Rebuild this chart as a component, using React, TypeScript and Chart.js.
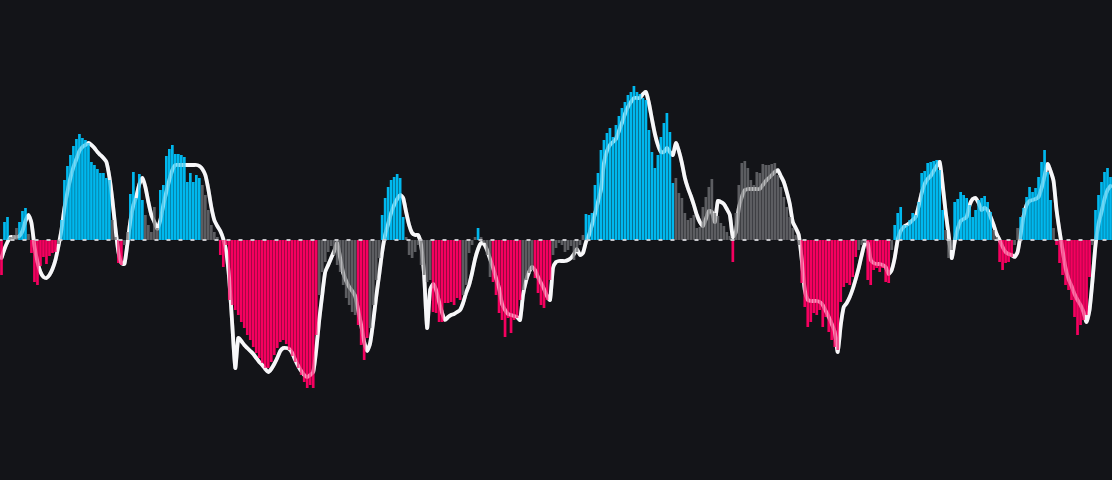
import { useEffect, useRef } from "react";
import { Chart, registerables } from "chart.js";

Chart.register(...registerables);

const BG = "#131418";

// Histogram (momentum) values, one per bar
const histValues: number[] = [
  -35, 18, 23, 3, 5, 12, 18, 29, 32, 6,
  -13, -42, -45, -26, -17, -24, -16, -13, -12, -4,
  20, 60, 74, 85, 94, 101, 106, 102, 100, 97,
  78, 75, 71, 67, 67, 62, 60, 20, 3, -23,
  -25, -5, 8, 46, 68, 42, 66, 40, 25, 15,
  8, 33, 12, 50, 55, 84, 91, 95, 86, 86,
  85, 83, 58, 67, 58, 65, 62, 55, 45, 30,
  15, 8, 3, -15, -27, -5, -60, -65, -70, -75,
  -82, -88, -95, -100, -107, -113, -118, -123, -128, -128,
  -122, -115, -108, -102, -100, -104, -110, -116, -122, -128,
  -135, -142, -148, -145, -148, -95, -55, -32, -22, -12,
  -6, -15, -25, -32, -45, -58, -65, -72, -75, -85,
  -105, -120, -98, -88, -65, -40, -18, 25, 42, 53,
  60, 63, 66, 62, 23, 3, -15, -18, -12, -5,
  -25, -35, -42, -40, -72, -73, -82, -82, -63, -63,
  -62, -65, -58, -60, -55, -45, -13, -5, 3, 12,
  3, -3, -15, -37, -42, -55, -73, -80, -97, -78,
  -93, -80, -78, -60, -50, -40, -33, -30, -38, -53,
  -65, -68, -60, -40, -15, -8, -3, -5, -12, -10,
  -6, -20, -12, -5, 5, 26, 25, 27, 55, 67,
  90, 100, 107, 112, 103, 115, 124, 132, 138, 145,
  148, 154, 148, 146, 142, 140, 110, 88, 72, 85,
  103, 117, 127, 108, 57, 62, 47, 42, 27, 20,
  22, 25, 12, 13, 33, 43, 53, 61, 27, 24,
  17, 14, 8, 4, -22, 27, 55, 77, 79, 72,
  60, 55, 68, 67, 76, 75, 75, 76, 77, 65,
  53, 43, 33, 23, 12, 5, -5, -43, -67, -87,
  -82, -73, -75, -70, -87, -77, -92, -100, -107, -110,
  -62, -47, -43, -45, -37, -17, -10, -5, -3, -40,
  -45, -30, -28, -32, -28, -42, -43, -10, 15, 27,
  33, 15, 15, 20, 27, 25, 38, 67, 69, 77,
  78, 79, 80, 70, 30, 10, -18, -10, 38, 41,
  48, 45, 42, 35, 23, 30, 40, 42, 44, 38,
  28, 10, 3, -22, -30, -23, -22, -17, -5, 12,
  23, 32, 43, 53, 48, 52, 63, 78, 90, 68,
  40, 12, -5, -23, -35, -45, -50, -60, -77, -95,
  -85, -80, -75, -37, -5, 30, 45, 58, 68, 72,
  63,
];

// Signal line values, one per bar
const signalValues: number[] = [
  -18, -9, -2, 3, 3, 3, 4, 9, 19, 25,
  17, -6, -22, -32, -37, -38, -35, -29, -20, -6,
  10, 32, 48, 62, 73, 81, 89, 93, 95, 97,
  95, 92, 88, 85, 82, 78, 63, 40, 12, -12,
  -23, -24, -4, 19, 35, 44, 56, 62, 53, 38,
  25, 18, 11, 20, 35, 48, 60, 70, 75, 75,
  75, 75, 75, 75, 75, 75, 74, 71, 65, 51,
  33, 20, 14, 9, 1, -12, -40, -85, -128, -98,
  -101, -105, -108, -111, -114, -118, -122, -125, -129, -132,
  -129, -124, -118, -111, -108, -108, -109, -113, -120, -126,
  -131, -135, -137, -135, -132, -110, -80, -55, -32, -25,
  -18, -11, -3, -18, -33, -41, -47, -51, -56, -70,
  -85, -102, -111, -103, -82, -57, -35, -12, 5, 16,
  27, 35, 41, 45, 42, 28, 15, 7, 5, 5,
  -5, -35, -88, -50, -44, -50, -62, -73, -80, -77,
  -75, -74, -72, -70, -63, -53, -45, -33, -19, -9,
  -3, -4, -10, -19, -28, -38, -48, -64, -70, -74,
  -75, -76, -77, -80, -55, -41, -32, -27, -30, -37,
  -43, -49, -56, -60, -28, -22, -21, -21, -21, -20,
  -18, -14, -9, -15, -13, -2, 5, 15, 26, 38,
  50, 77, 89, 95, 98, 101, 109, 117, 126, 133,
  138, 142, 142, 142, 146, 148, 137, 121, 106, 95,
  88, 88, 92, 88, 85, 97, 89, 77, 62, 52,
  44, 35, 25, 18, 14, 21, 29, 28, 18, 39,
  38, 36, 31, 25, 3, 8, 32, 43, 50, 51,
  51, 51, 51, 51, 55, 59, 62, 65, 68, 70,
  64, 58, 48, 36, 18, 12, 5, -20, -50, -60,
  -61, -61, -61, -62, -65, -71, -77, -84, -92, -112,
  -85, -67, -63, -57, -49, -39, -28, -15, -4, -3,
  -20, -23, -24, -24, -25, -27, -34, -30, -18, 0,
  9, 13, 15, 17, 20, 23, 34, 47, 56, 61,
  64, 69, 74, 78, 55, 28, 5, -18, -2, 11,
  19, 21, 23, 35, 41, 42, 37, 30, 32, 30,
  23, 15, 6, 0, -7, -12, -14, -15, -17, -12,
  5, 24, 35, 39, 40, 41, 43, 52, 64, 76,
  69, 59, 30, 9, -10, -28, -39, -46, -54, -60,
  -65, -72, -82, -70, -40, -5, 16, 28, 41, 50,
  54,
];

// Bar colour classes as runs: b = rising positive, g = fading, p = falling negative
const colorRuns: [string, number][] = [
  ["p", 1], ["b", 2], ["g", 3], ["b", 3], ["g", 1], ["p", 9], ["g", 1], ["b", 17],
  ["g", 2], ["p", 2], ["g", 2], ["b", 5], ["g", 5], ["b", 14], ["g", 6], ["p", 33],
  ["g", 13], ["p", 4], ["g", 4], ["b", 8], ["g", 9], ["p", 10], ["g", 5], ["b", 1],
  ["g", 4], ["p", 10], ["g", 4], ["p", 6], ["g", 11], ["b", 30], ["g", 19], ["p", 1],
  ["g", 22], ["p", 19], ["g", 3], ["p", 8], ["g", 1], ["b", 17], ["g", 3], ["b", 13],
  ["g", 2], ["p", 5], ["g", 2], ["b", 11], ["g", 1], ["p", 12], ["g", 1], ["b", 6],
];

const categories: string[] = histValues.map((_, i) => String(i + 1));

const PALETTE: Record<string, string> = {
  b: "#00b8ee",
  g: "#5c5d61",
  p: "#f5005f",
};

const barColors: string[] = colorRuns.flatMap(([c, n]) => Array(n).fill(PALETTE[c]));

const zeroLinePlugin = {
  id: "zeroLine",
  afterDatasetsDraw(chart: any) {
    const { ctx, chartArea, scales } = chart;
    const y = scales.y.getPixelForValue(0);
    ctx.save();
    ctx.strokeStyle = "rgba(205,206,210,0.95)";
    ctx.lineWidth = 2;
    ctx.setLineDash([4, 8]);
    ctx.lineDashOffset = 1.5;
    ctx.beginPath();
    ctx.moveTo(chartArea.left, y);
    ctx.lineTo(chartArea.right, y);
    ctx.stroke();
    ctx.restore();
  },
};

export default function App() {
  const ref = useRef<HTMLCanvasElement | null>(null);

  useEffect(() => {
    document.body.style.margin = "0";
    document.body.style.background = BG;
    if (!ref.current) return;
    const chart = new Chart(ref.current, {
      type: "bar",
      data: {
        labels: categories,
        datasets: [
          {
            type: "line",
            label: "signal-back",
            data: signalValues,
            borderColor: "#f4f4f6",
            borderWidth: 3.8,
            pointRadius: 0,
            tension: 0.2,
            borderJoinStyle: "round",
            borderCapStyle: "round",
            fill: false,
            order: 3,
          } as any,
          {
            type: "bar",
            label: "momentum",
            data: histValues,
            backgroundColor: barColors,
            borderWidth: 0,
            barPercentage: 0.9,
            categoryPercentage: 1,
            order: 2,
          } as any,
          {
            type: "line",
            label: "signal-front",
            data: signalValues,
            borderColor: "rgba(255,255,255,0.32)",
            borderWidth: 3.8,
            pointRadius: 0,
            tension: 0.2,
            borderJoinStyle: "round",
            borderCapStyle: "round",
            fill: false,
            order: 1,
          } as any,
        ],
      },
      options: {
        animation: false,
        responsive: true,
        maintainAspectRatio: false,
        events: [],
        layout: { padding: 0 },
        plugins: {
          legend: { display: false },
          tooltip: { enabled: false },
        },
        scales: {
          x: { display: false, offset: true, grid: { display: false } },
          y: { display: false, min: -240, max: 240, grid: { display: false } },
        },
      },
      plugins: [zeroLinePlugin],
    });
    return () => chart.destroy();
  }, []);

  return (
    <div style={{ width: 1112, height: 480, background: BG, position: "relative" }}>
      <canvas ref={ref} />
    </div>
  );
}
